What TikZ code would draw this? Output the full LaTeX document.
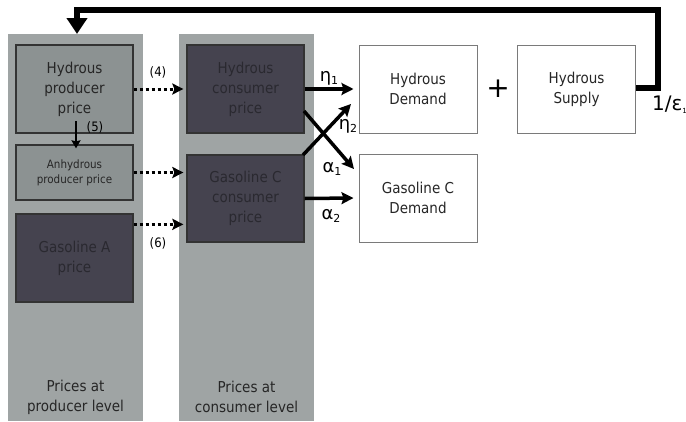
\documentclass[tikz,border=0pt]{standalone}
\usepackage{fontspec}
\setmainfont{DejaVu Sans Condensed}
\newfontfamily\gfont{DejaVu Sans}
\usetikzlibrary{arrows.meta}
\definecolor{colgray}{HTML}{9FA4A4}
\definecolor{medbox}{HTML}{8C9292}
\definecolor{darkbox}{HTML}{45434F}
\definecolor{darktext}{HTML}{2A2930}
\definecolor{wborder}{HTML}{7A7A7A}
\tikzset{
  column/.style={fill=colgray, draw=none},
  medbox/.style={draw=black!80, line width=1.3pt, fill=medbox, text=black!85, minimum width=117pt, minimum height=88pt, align=center, inner sep=0pt, font=\fontsize{15}{20}\selectfont},
  darkbox/.style={medbox, fill=darkbox, text=darktext},
  whitebox/.style={draw=wborder, line width=1pt, fill=white, text=black!85, minimum width=118pt, minimum height=88pt, align=center, inner sep=0pt, font=\fontsize{15}{20}\selectfont},
  dotarrow/.style={line width=3pt, dash pattern=on 3pt off 3pt, -{Stealth[length=11pt,width=11pt,inset=2pt]}},
  solidarrow/.style={line width=3.5pt, -{Stealth[length=12pt,width=12pt,inset=2pt]}},
  fbline/.style={line width=5.5pt},
  lbl/.style={font=\fontsize{13}{15}\selectfont, inner sep=0pt},
  grk/.style={font=\gfont\fontsize{18}{20}\selectfont, inner sep=0pt},
  collabel/.style={align=center, font=\fontsize{15}{20}\selectfont, text=black!85, inner sep=0pt}
}
\newcommand{\gsub}[1]{\raisebox{-0.35ex}{\fontsize{11}{12}\selectfont #1}}
\begin{document}
\begin{tikzpicture}[x=1pt,y=-1pt]
\useasboundingbox (0,0) rectangle (686,421);
% columns
\path[column] (8,34) rectangle (143,421);
\path[column] (179,34) rectangle (314,421);
% boxes
\node[medbox] (hpp) at (74.5,89) {Hydrous\\producer\\price};
\node[medbox, minimum height=55pt, font=\fontsize{11.5}{15}\selectfont] (app) at (74.5,172.5) {Anhydrous\\producer price};
\node[darkbox] (gap) at (74.5,258) {Gasoline A\\price};
\node[darkbox] (hcp) at (245.5,89) {Hydrous\\consumer\\price};
\node[darkbox, minimum height=87pt] (gcp) at (245.5,198.5) {Gasoline C\\consumer\\price};
\node[whitebox] (hd) at (418,89) {Hydrous\\Demand};
\node[whitebox] (hs) at (576.5,89) {Hydrous\\Supply};
\node[whitebox] (gcd) at (418,198) {Gasoline C\\Demand};
% column labels
\node[collabel] (pl) at (75.5,397) {Prices at\\producer level};
\node[collabel] (cl) at (246.5,397) {Prices at\\consumer level};
% dotted arrows
\draw[dotarrow] (hpp.east) -- ([xshift=-3pt]hcp.west);
\draw[dotarrow] (app.east) -- ([xshift=-3pt]app.east -| gcp.west);
\draw[dotarrow] ([yshift=-11pt]gap.north east) -- ([xshift=-3pt,yshift=-11pt]gap.north east -| gcp.west);
\node[lbl] (l4) at (158,72) {(4)};
\node[lbl] (l5) at (95,127) {(5)};
\node[lbl] (l6) at (158,243) {(6)};
% (5) arrow
\coordinate (a5s) at (76,121);
\draw[line width=2pt, -{Stealth[length=8pt,width=9pt,inset=1pt]}] (a5s) -- ([yshift=-4pt]app.north -| a5s);
% solid arrows
\draw[solidarrow] (hcp.east) -- ([xshift=-5pt]hd.west);
\draw[solidarrow] (gcp.east) -- ([xshift=-5pt]gcd.west);
\coordinate (c1) at (304,111);
\coordinate (c1e) at (354,169);
\coordinate (c2) at (303,155);
\coordinate (c2e) at (351,104);
\draw[solidarrow] (c1) -- (c1e);
\draw[solidarrow] (c2) -- (c2e);
\node[grk] (eta1) at (329,78) {η\gsub{1}};
\node[grk] (eta2) at (348,126) {η\gsub{2}};
\node[grk] (al1) at (332,169) {α\gsub{1}};
\node[grk] (al2) at (331,216) {α\gsub{2}};
% plus
\node[font=\gfont\fontsize{28}{30}\selectfont, inner sep=0pt] (plus) at (498,89) {+};
% feedback
\coordinate (f1) at (658,88);
\coordinate (f2) at (658,10);
\coordinate (f3) at (77,10);
\coordinate (f4) at (77,34);
\draw[fbline, line join=miter, -{Triangle[length=16pt,width=20pt]}] (hs.east |- f1) -- (f1) -- (f2) -- (f3) -- (f4);
\node[font=\gfont\fontsize{20}{22}\selectfont, inner sep=0pt, anchor=west] (eps) at (652,105) {1/ε\raisebox{-0.3ex}{\fontsize{7}{8}\selectfont 1}};
\end{tikzpicture}
\end{document}
